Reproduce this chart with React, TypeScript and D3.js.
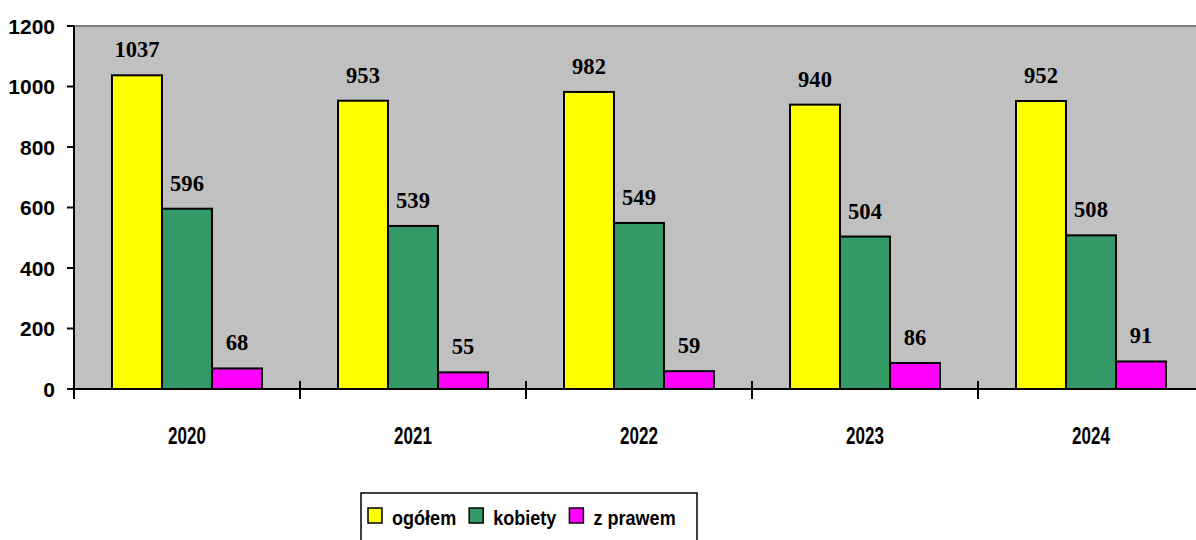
import { useEffect, useRef } from 'react';
import * as d3 from 'd3';

// lata i serie
const years = ['2020', '2021', '2022', '2023', '2024'];
const ogolem = [1037, 953, 982, 940, 952];
const kobiety = [596, 539, 549, 504, 508];
const zPrawem = [68, 55, 59, 86, 91];
const seriesNames = ['ogółem', 'kobiety', 'z prawem'];
const seriesColors = ['#FFFF00', '#339966', '#FF00FF'];
const yTicks = [0, 200, 400, 600, 800, 1000, 1200];

const W = 1196;
const H = 540;
const plot = { left: 74, top: 26, bottom: 389, band: 226 };

export default function App() {
  const svgRef = useRef<SVGSVGElement | null>(null);

  useEffect(() => {
    document.body.style.margin = '0';
    const svg = d3.select(svgRef.current);
    svg.selectAll('*').remove();

    const series = [ogolem, kobiety, zPrawem];

    const x = d3
      .scaleBand()
      .domain(years)
      .range([plot.left, plot.left + plot.band * years.length])
      .padding(0);
    const xInner = d3
      .scaleBand()
      .domain(seriesNames)
      .range([38, 188])
      .padding(0);
    const y = d3.scaleLinear().domain([0, 1200]).range([plot.bottom, plot.top]);

    // tło obszaru wykresu
    svg
      .append('rect')
      .attr('x', plot.left)
      .attr('y', plot.top)
      .attr('width', W - plot.left + 20)
      .attr('height', plot.bottom - plot.top)
      .attr('fill', '#C0C0C0');
    svg
      .append('line')
      .attr('x1', plot.left)
      .attr('x2', W)
      .attr('y1', plot.top)
      .attr('y2', plot.top)
      .attr('stroke', '#808080')
      .attr('stroke-width', 2);

    // słupki
    series.forEach((vals, si) => {
      const g = svg.append('g');
      g.selectAll('rect')
        .data(vals)
        .join('rect')
        .attr('x', (d, i) => x(years[i])! + xInner(seriesNames[si])!)
        .attr('y', d => y(d))
        .attr('width', xInner.bandwidth())
        .attr('height', d => y(0) - y(d))
        .attr('fill', seriesColors[si])
        .attr('stroke', '#000')
        .attr('stroke-width', 2);

      g.selectAll('text')
        .data(vals)
        .join('text')
        .attr(
          'transform',
          (d, i) =>
            `translate(${x(years[i])! + xInner(seriesNames[si])! + xInner.bandwidth() / 2},${y(d) - 18}) scale(0.94,1)`
        )
        .attr('text-anchor', 'middle')
        .style('font', 'bold 24px "Liberation Serif", "Times New Roman", serif')
        .attr('fill', '#000')
        .text(d => d);
    });

    // oś Y
    svg
      .append('line')
      .attr('x1', plot.left)
      .attr('x2', plot.left)
      .attr('y1', plot.top)
      .attr('y2', plot.bottom + 10)
      .attr('stroke', '#000')
      .attr('stroke-width', 2);
    const yt = svg.append('g').selectAll('g').data(yTicks).join('g');
    yt.append('line')
      .attr('x1', plot.left - 7)
      .attr('x2', plot.left)
      .attr('y1', d => y(d))
      .attr('y2', d => y(d))
      .attr('stroke', '#000')
      .attr('stroke-width', 2);
    yt.append('text')
      .attr('x', 55)
      .attr('y', d => y(d))
      .attr('dy', '0.36em')
      .attr('text-anchor', 'end')
      .style('font', 'bold 21px "Liberation Sans", Arial, sans-serif')
      .attr('fill', '#000')
      .text(d => d);

    // oś X
    svg
      .append('line')
      .attr('x1', plot.left)
      .attr('x2', W)
      .attr('y1', plot.bottom)
      .attr('y2', plot.bottom)
      .attr('stroke', '#000')
      .attr('stroke-width', 2);
    const bounds = years.slice(1).map(yr => x(yr)!);
    svg
      .append('g')
      .selectAll('line')
      .data(bounds)
      .join('line')
      .attr('x1', d => d)
      .attr('x2', d => d)
      .attr('y1', plot.bottom - 8)
      .attr('y2', plot.bottom + 10)
      .attr('stroke', '#000')
      .attr('stroke-width', 2);
    svg
      .append('g')
      .selectAll('text')
      .data(years)
      .join('text')
      .attr('transform', d => `translate(${x(d)! + x.bandwidth() / 2},444) scale(0.74,1)`)
      .attr('text-anchor', 'middle')
      .style('font', 'bold 23px "Liberation Sans", Arial, sans-serif')
      .attr('fill', '#000')
      .text(d => d);

    // legenda
    const legend = svg.append('g');
    legend
      .append('rect')
      .attr('x', 361)
      .attr('y', 493)
      .attr('width', 336)
      .attr('height', 60)
      .attr('fill', '#fff')
      .attr('stroke', '#000')
      .attr('stroke-width', 1.5);
    const sx = 0.86;
    let lx = 368;
    seriesNames.forEach((name, i) => {
      legend
        .append('rect')
        .attr('x', lx)
        .attr('y', 508)
        .attr('width', 14)
        .attr('height', 15)
        .attr('fill', seriesColors[i])
        .attr('stroke', '#000')
        .attr('stroke-width', 1.5);
      const t = legend
        .append('text')
        .attr('transform', `translate(${lx + 24},525) scale(${sx},1)`)
        .style('font', 'bold 21px "Liberation Sans", Arial, sans-serif')
        .attr('fill', '#000')
        .text(name);
      const len = (t.node() as SVGTextElement).getComputedTextLength() * sx;
      lx = lx + 24 + len + 13;
    });
  }, []);

  return (
    <svg
      ref={svgRef}
      width={W}
      height={H}
      style={{ display: 'block', position: 'absolute', left: 0, top: 0, background: '#fff' }}
    />
  );
}
